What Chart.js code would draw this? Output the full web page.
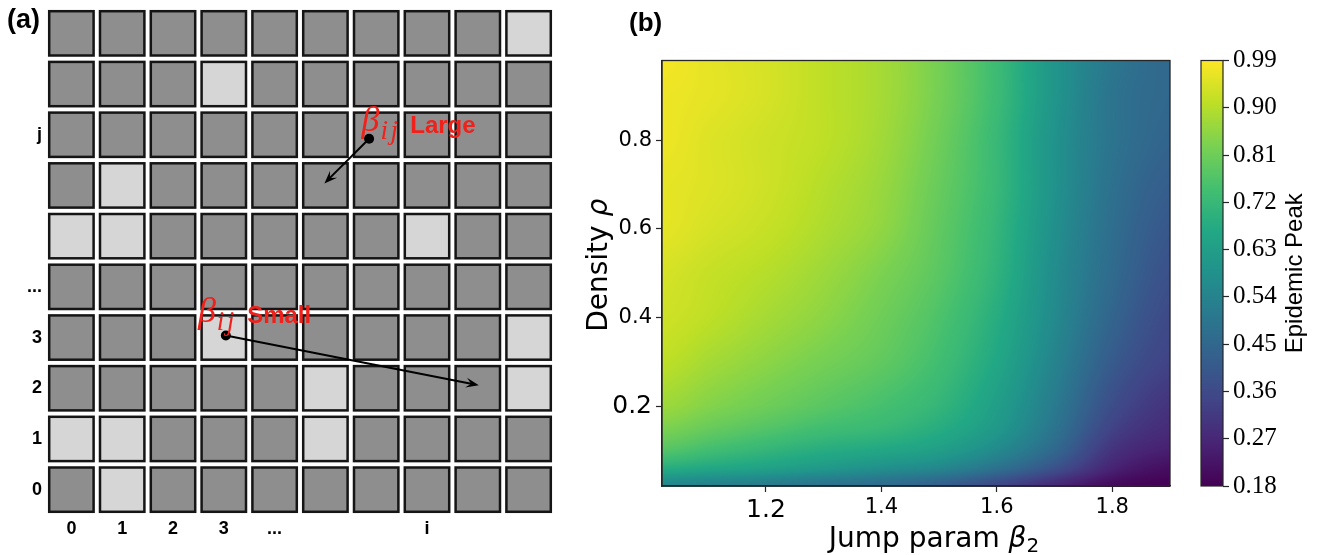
<!DOCTYPE html>
<html>
<head>
<meta charset="utf-8">
<title>Lattice and epidemic peak</title>
<script src="https://cdn.jsdelivr.net/npm/chart.js@4.4.1/dist/chart.umd.min.js"></script>
<style>
  html, body { margin: 0; padding: 0; background: #fff; }
  #wrap { position: relative; width: 1325px; height: 555px; overflow: hidden; }
  #wrap canvas { position: absolute; top: 0; }
  .panel { position: absolute; font-family: "Liberation Sans", Arial, sans-serif; font-weight: bold; line-height: 30px; color: #000; }
</style>
</head>
<body>
<div id="wrap">
  <canvas id="latticeChart" width="600" height="555" style="left:0"></canvas>
  <canvas id="peakChart" width="620" height="555" style="left:560px"></canvas>
  <canvas id="barChart" width="145" height="555" style="left:1180px"></canvas>
  <div class="panel" style="left:7px;top:4px;font-size:27px">(a)</div>
  <div class="panel" style="left:629px;top:7px;font-size:26px">(b)</div>
</div>
<script>
// ---------------- panel (a): lattice of patches ----------------
const latticeCols = ['0', '1', '2', '3', '...', '', '', 'i', '', ''];
const latticeRows = ['0', '1', '2', '3', '...', '', '', 'j', '', ''];   // bottom to top
// 1 = light patch, 0 = dark patch; top row first
const latticeTop = [
  [0, 0, 0, 0, 0, 0, 0, 0, 0, 1],
  [0, 0, 0, 1, 0, 0, 0, 0, 0, 0],
  [0, 0, 0, 0, 0, 0, 0, 0, 0, 0],
  [0, 1, 0, 0, 0, 0, 0, 0, 0, 0],
  [1, 1, 0, 0, 0, 0, 0, 1, 0, 0],
  [0, 0, 0, 0, 0, 0, 0, 0, 0, 0],
  [0, 0, 0, 1, 0, 0, 0, 0, 0, 1],
  [0, 0, 0, 0, 0, 1, 0, 0, 0, 1],
  [1, 1, 0, 0, 0, 1, 0, 0, 0, 0],
  [0, 1, 0, 0, 0, 0, 0, 0, 0, 0]
];
// jump annotations (lattice coordinates)
const jumpNames = ['Large', 'Small'];
const jumpFrom = [[5.86, 6.92], [3.04, 3.04]];
const jumpTo = [[4.98, 6.04], [8.02, 2.06]];
const jumpSymbolAt = [[5.71, 7.07], [2.49, 3.31]];
const jumpNameAt = [[6.67, 7.03], [3.46, 3.29]];

// ---------------- panel (b): epidemic peak ----------------
const betaGrid = [1.02, 1.1, 1.2, 1.3, 1.4, 1.5, 1.6, 1.7, 1.8, 1.9];
const rhoGrid = [0.02, 0.06, 0.1, 0.15, 0.2, 0.3, 0.4, 0.5, 0.6, 0.7, 0.8, 0.9, 0.98];
// one row per rho (bottom to top), one column per beta
const peak = [
  [0.55, 0.53, 0.51, 0.48, 0.46, 0.42, 0.35, 0.27, 0.20, 0.18],
  [0.68, 0.66, 0.64, 0.61, 0.58, 0.55, 0.48, 0.38, 0.26, 0.21],
  [0.77, 0.74, 0.71, 0.68, 0.66, 0.63, 0.56, 0.45, 0.30, 0.25],
  [0.83, 0.80, 0.77, 0.74, 0.72, 0.68, 0.61, 0.49, 0.34, 0.28],
  [0.87, 0.84, 0.81, 0.78, 0.75, 0.71, 0.63, 0.51, 0.37, 0.30],
  [0.91, 0.88, 0.85, 0.82, 0.79, 0.74, 0.66, 0.54, 0.41, 0.34],
  [0.93, 0.91, 0.88, 0.85, 0.81, 0.76, 0.68, 0.56, 0.44, 0.36],
  [0.94, 0.92, 0.90, 0.87, 0.83, 0.78, 0.70, 0.57, 0.46, 0.38],
  [0.96, 0.94, 0.92, 0.89, 0.855, 0.79, 0.71, 0.58, 0.47, 0.40],
  [0.96, 0.95, 0.93, 0.90, 0.865, 0.80, 0.72, 0.59, 0.48, 0.42],
  [0.97, 0.95, 0.93, 0.91, 0.875, 0.81, 0.72, 0.59, 0.49, 0.44],
  [0.97, 0.96, 0.94, 0.91, 0.88, 0.82, 0.73, 0.60, 0.49, 0.45],
  [0.98, 0.96, 0.94, 0.91, 0.88, 0.82, 0.73, 0.60, 0.50, 0.45]
];
const betaTicks = [1.2, 1.4, 1.6, 1.8];
const rhoTicks = [0.2, 0.4, 0.6, 0.8];
const peakTicks = [0.18, 0.27, 0.36, 0.45, 0.54, 0.63, 0.72, 0.81, 0.90, 0.99];

// viridis colour map anchors (t = 0, 0.1, ... 1)
const viridisStops = ['#440154', '#482475', '#414487', '#355f8d', '#2a788e', '#21918c',
                      '#22a884', '#44bf70', '#7ad151', '#bddf26', '#fde725'];
const viridisRgb = viridisStops.map(h => [1, 3, 5].map(k => parseInt(h.substr(k, 2), 16)));

function viridis(t) {
  t = Math.min(1, Math.max(0, t)) * (viridisRgb.length - 1);
  const k = Math.min(viridisRgb.length - 2, Math.floor(t));
  const f = t - k;
  const a = viridisRgb[k], b = viridisRgb[k + 1];
  return [0, 1, 2].map(c => Math.round(a[c] + (b[c] - a[c]) * f));
}

function locate(grid, v) {
  let k = 0;
  while (k < grid.length - 2 && v > grid[k + 1]) k++;
  const f = Math.min(1, Math.max(0, (v - grid[k]) / (grid[k + 1] - grid[k])));
  return [k, f];
}

// Catmull-Rom step between arr[i] and arr[i+1]
function spline(arr, i, f) {
  const p0 = arr[Math.max(0, i - 1)], p1 = arr[i], p2 = arr[i + 1], p3 = arr[Math.min(arr.length - 1, i + 2)];
  const f2 = f * f, f3 = f2 * f;
  return 0.5 * (2 * p1 + (p2 - p0) * f + (2 * p0 - 5 * p1 + 4 * p2 - p3) * f2 + (3 * p1 - p0 - 3 * p2 + p3) * f3);
}

// smooth shading between the measured grid nodes (like contourf)
function peakAt(beta, rho) {
  const [i, fx] = locate(betaGrid, beta);
  const [j, fy] = locate(rhoGrid, rho);
  const col = peak.map(row => spline(row, i, fx));
  return spline(col, j, fy);
}

const cbMin = peakTicks[0], cbMax = peakTicks[peakTicks.length - 1];

// ---------------- lattice chart ----------------
const latticePlugin = {
  id: 'lattice',
  beforeDatasetsDraw(chart) {
    const { ctx, scales: { x, y } } = chart;
    const n = latticeTop.length;
    ctx.save();
    for (let r = 0; r < n; r++) {
      const row = n - 1 - r;
      for (let c = 0; c < latticeTop[r].length; c++) {
        const x0 = x.getPixelForValue(c - 0.5), x1 = x.getPixelForValue(c + 0.5);
        const y0 = y.getPixelForValue(row + 0.5), y1 = y.getPixelForValue(row - 0.5);
        const inset = 3.2;
        ctx.fillStyle = latticeTop[r][c] ? '#d6d6d6' : '#8e8e8e';
        ctx.fillRect(x0 + inset, y0 + inset, x1 - x0 - 2 * inset, y1 - y0 - 2 * inset);
        ctx.strokeStyle = '#151515';
        ctx.lineWidth = 2.5;
        ctx.strokeRect(x0 + inset, y0 + inset, x1 - x0 - 2 * inset, y1 - y0 - 2 * inset);
      }
    }
    // arrows
    jumpFrom.forEach((p, k) => {
      const sx = x.getPixelForValue(p[0]), sy = y.getPixelForValue(p[1]);
      const ex = x.getPixelForValue(jumpTo[k][0]), ey = y.getPixelForValue(jumpTo[k][1]);
      const ang = Math.atan2(ey - sy, ex - sx);
      const head = 13;
      ctx.strokeStyle = '#000';
      ctx.lineWidth = 2;
      ctx.beginPath();
      ctx.moveTo(sx, sy);
      ctx.lineTo(ex - Math.cos(ang) * head * 0.6, ey - Math.sin(ang) * head * 0.6);
      ctx.stroke();
      ctx.fillStyle = '#000';
      ctx.beginPath();
      ctx.moveTo(ex, ey);
      ctx.lineTo(ex - head * Math.cos(ang) + 5 * Math.sin(ang), ey - head * Math.sin(ang) - 5 * Math.cos(ang));
      ctx.lineTo(ex - head * 0.6 * Math.cos(ang), ey - head * 0.6 * Math.sin(ang));
      ctx.lineTo(ex - head * Math.cos(ang) - 5 * Math.sin(ang), ey - head * Math.sin(ang) + 5 * Math.cos(ang));
      ctx.closePath();
      ctx.fill();
    });
    ctx.restore();
  },
  afterDatasetsDraw(chart) {
    const { ctx, scales: { x, y } } = chart;
    ctx.save();
    ctx.fillStyle = '#f0201a';
    ctx.textBaseline = 'alphabetic';
    ctx.textAlign = 'left';
    jumpNames.forEach((name, k) => {
      const bx = x.getPixelForValue(jumpSymbolAt[k][0]), by = y.getPixelForValue(jumpSymbolAt[k][1]);
      ctx.font = 'italic 36px "Liberation Serif", serif';
      ctx.fillText('\u03b2', bx, by);
      const w = ctx.measureText('\u03b2').width;
      ctx.font = 'italic 27px "Liberation Serif", serif';
      ctx.fillText('i', bx + w + 1, by + 8);
      ctx.fillText('j', bx + w + 11, by + 8);
      ctx.font = 'bold 24px "Liberation Sans", Arial, sans-serif';
      ctx.fillText(name, x.getPixelForValue(jumpNameAt[k][0]), y.getPixelForValue(jumpNameAt[k][1]));
    });
    ctx.restore();
  }
};

const latticeFont = { family: '"Liberation Sans", Arial, sans-serif', size: 18, weight: 'bold' };

new Chart(document.getElementById('latticeChart'), {
  type: 'scatter',
  data: {
    datasets: [{
      data: jumpFrom.map(p => ({ x: p[0], y: p[1] })),
      pointRadius: 5,
      pointBackgroundColor: '#000',
      pointBorderWidth: 0
    }]
  },
  options: {
    responsive: false,
    animation: false,
    layout: { padding: { top: 8, right: 46, left: 0, bottom: 0 } },
    plugins: { legend: { display: false }, tooltip: { enabled: false } },
    scales: {
      x: {
        type: 'linear', min: -0.5, max: 9.5,
        grid: { display: false, drawTicks: false },
        border: { display: false },
        afterBuildTicks: s => { s.ticks = latticeCols.map((t, i) => ({ value: i })).filter(t => latticeCols[t.value] !== ''); },
        afterFit: s => { s.height = 40; s.paddingLeft = 0; s.paddingRight = 0; },
        ticks: { autoSkip: false, maxRotation: 0, padding: 3, color: '#000', font: latticeFont,
                 callback: v => latticeCols[v] }
      },
      y: {
        type: 'linear', min: -0.5, max: 9.5,
        grid: { display: false, drawTicks: false },
        border: { display: false },
        afterBuildTicks: s => { s.ticks = latticeRows.map((t, i) => ({ value: i })).filter(t => latticeRows[t.value] !== ''); },
        afterFit: s => { s.width = 46; s.paddingTop = 0; s.paddingBottom = 0; },
        ticks: { autoSkip: false, padding: 4, color: '#000', font: latticeFont,
                 callback: v => latticeRows[v] }
      }
    }
  },
  plugins: [latticePlugin]
});

// ---------------- heat map chart ----------------
const axisFont = '28px "DejaVu Sans", sans-serif';
const axisFontIt = 'oblique 28px "DejaVu Sans", sans-serif';

const heatmapPlugin = {
  id: 'heatmap',
  beforeDraw(chart) {
    const { ctx, chartArea: a, scales: { x, y } } = chart;
    const w = Math.round(a.right - a.left), h = Math.round(a.bottom - a.top);
    const off = document.createElement('canvas');
    off.width = w; off.height = h;
    const octx = off.getContext('2d');
    const img = octx.createImageData(w, h);
    for (let j = 0; j < h; j++) {
      const rho = y.getValueForPixel(a.top + j + 0.5);
      for (let i = 0; i < w; i++) {
        const beta = x.getValueForPixel(a.left + i + 0.5);
        const c = viridis((peakAt(beta, rho) - cbMin) / (cbMax - cbMin));
        const o = (j * w + i) * 4;
        img.data[o] = c[0]; img.data[o + 1] = c[1]; img.data[o + 2] = c[2]; img.data[o + 3] = 255;
      }
    }
    octx.putImageData(img, 0, 0);
    ctx.drawImage(off, a.left, a.top);
  },
  afterDraw(chart) {
    const { ctx, chartArea: a } = chart;
    ctx.save();
    ctx.strokeStyle = '#262626';
    ctx.lineWidth = 1.3;
    ctx.strokeRect(a.left, a.top, a.right - a.left, a.bottom - a.top);

    // x title: Jump param beta_2
    ctx.fillStyle = '#000';
    ctx.textBaseline = 'alphabetic';
    ctx.textAlign = 'left';
    ctx.font = axisFont;
    const w1 = ctx.measureText('Jump param ').width;
    ctx.font = axisFontIt;
    const w2 = ctx.measureText('\u03b2').width;
    ctx.font = '20px "DejaVu Sans", sans-serif';
    const w3 = ctx.measureText('2').width;
    let sx = (a.left + a.right) / 2 + 18 - (w1 + w2 + w3) / 2;
    ctx.font = axisFont;
    ctx.fillText('Jump param ', sx, 547);
    ctx.font = axisFontIt;
    ctx.fillText('\u03b2', sx + w1, 547);
    ctx.font = '20px "DejaVu Sans", sans-serif';
    ctx.fillText('2', sx + w1 + w2, 552);

    // y title: Density rho
    ctx.translate(47, (a.top + a.bottom) / 2 - 8);
    ctx.rotate(-Math.PI / 2);
    ctx.font = axisFont;
    const v1 = ctx.measureText('Density ').width;
    ctx.font = axisFontIt;
    const v2 = ctx.measureText('\u03c1').width;
    const sy = -(v1 + v2) / 2;
    ctx.font = axisFont;
    ctx.fillText('Density ', sy, 0);
    ctx.font = axisFontIt;
    ctx.fillText('\u03c1', sy + v1, 0);
    ctx.restore();
  }
};

const sansTick = (ctx) => ({
  family: '"DejaVu Sans", sans-serif',
  size: ctx.tick && (Math.abs(ctx.tick.value - 1.2) < 1e-6 || Math.abs(ctx.tick.value - 0.2) < 1e-6) ? 25 : 21
});

new Chart(document.getElementById('peakChart'), {
  type: 'scatter',
  data: { datasets: [] },
  options: {
    responsive: false,
    animation: false,
    layout: { padding: { top: 60.5, right: 10, left: 0, bottom: 0 } },
    plugins: { legend: { display: false }, tooltip: { enabled: false } },
    scales: {
      x: {
        type: 'linear', min: betaGrid[0], max: betaGrid[betaGrid.length - 1],
        grid: { drawOnChartArea: false, tickLength: 6, color: '#262626', tickWidth: 1.2 },
        border: { color: '#262626', width: 1.3 },
        afterBuildTicks: s => { s.ticks = betaTicks.map(v => ({ value: v })); },
        afterFit: s => { s.height = 69; },
        ticks: { autoSkip: false, maxRotation: 0, padding: 3, color: '#000', font: sansTick,
                 callback: v => v.toFixed(1) }
      },
      y: {
        type: 'linear', min: rhoGrid[0], max: rhoGrid[rhoGrid.length - 1],
        grid: { drawOnChartArea: false, tickLength: 6, color: '#262626', tickWidth: 1.2 },
        border: { color: '#262626', width: 1.3 },
        afterBuildTicks: s => { s.ticks = rhoTicks.map(v => ({ value: v })); },
        afterFit: s => { s.width = 102; },
        ticks: { autoSkip: false, padding: 4, color: '#000', font: sansTick,
                 callback: v => v.toFixed(1) }
      }
    }
  },
  plugins: [heatmapPlugin]
});

// ---------------- colour bar ----------------
const colorbarPlugin = {
  id: 'colorbar',
  beforeDraw(chart) {
    const { ctx, chartArea: a, scales: { y } } = chart;
    ctx.save();
    for (let py = Math.floor(a.top); py < a.bottom; py++) {
      const v = y.getValueForPixel(py + 0.5);
      const c = viridis((v - cbMin) / (cbMax - cbMin));
      ctx.fillStyle = 'rgb(' + c.join(',') + ')';
      ctx.fillRect(a.left, py, a.right - a.left, 1);
    }
    ctx.restore();
  },
  afterDraw(chart) {
    const { ctx, chartArea: a } = chart;
    ctx.save();
    ctx.strokeStyle = '#262626';
    ctx.lineWidth = 1.2;
    ctx.strokeRect(a.left, a.top, a.right - a.left, a.bottom - a.top);
    ctx.translate(115, (a.top + a.bottom) / 2);
    ctx.rotate(-Math.PI / 2);
    ctx.fillStyle = '#000';
    ctx.textAlign = 'center';
    ctx.textBaseline = 'middle';
    ctx.font = '24px "Liberation Sans", Arial, sans-serif';
    ctx.fillText('Epidemic Peak', 0, 0);
    ctx.restore();
  }
};

new Chart(document.getElementById('barChart'), {
  type: 'scatter',
  data: { datasets: [] },
  options: {
    responsive: false,
    animation: false,
    layout: { padding: { top: 60.5, right: 0, left: 21, bottom: 69 } },
    plugins: { legend: { display: false }, tooltip: { enabled: false } },
    scales: {
      x: { type: 'linear', display: false, min: 0, max: 1 },
      y: {
        type: 'linear', position: 'right', min: cbMin, max: cbMax,
        grid: { drawOnChartArea: false, tickLength: 6, color: '#262626', tickWidth: 1.2 },
        border: { display: false },
        afterBuildTicks: s => { s.ticks = peakTicks.map(v => ({ value: v })); },
        afterFit: s => { s.width = 102; },
        ticks: { autoSkip: false, padding: 4, color: '#000',
                 font: { family: '"Liberation Serif", serif', size: 25 },
                 callback: v => v.toFixed(2) }
      }
    }
  },
  plugins: [colorbarPlugin]
});
</script>
</body>
</html>
